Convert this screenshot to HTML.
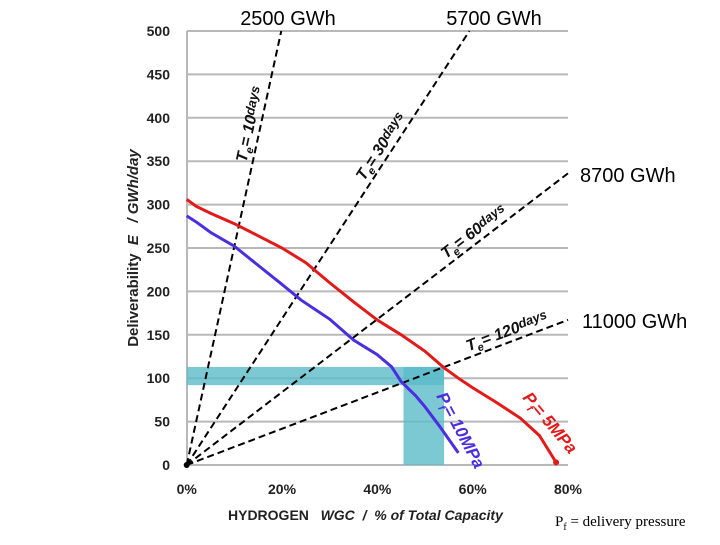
<!DOCTYPE html>
<html><head><meta charset="utf-8"><style>
body{margin:0;background:#fff;width:720px;height:540px;overflow:hidden}
svg text{font-family:"Liberation Sans",sans-serif}
</style></head><body>
<svg id="c" width="720" height="540">
</svg>
<script>
const xTicks=[0,20,40,60,80];
const yTicks=[0,50,100,150,200,250,300,350,400,450,500];
const teLabels=["10days","30days","60days","120days"];
const teSlopes=[25.2,8.43,4.2,2.09];
const capLabels=["2500 GWh","5700 GWh","8700 GWh","11000 GWh"];
const redX=[0,2,5,10,15,20,25,30,35,40,45,50,54,57,60,65,70,74,77.5];
const redY=[306,298,290,278,264,250,233,210,188,167,150,131,112,100,89,72,54,34,3];
const blueX=[0,2,5,10,15,20,24,30,35,40,43,45,48,50,53,57];
const blueY=[287,280,268,252,230,208,190,168,144,127,113,96,80,67,45,14];
const bandY=[92,113];const bandX=[45.5,54];
const S='http://www.w3.org/2000/svg',svg=document.getElementById('c');
const X=v=>186.7+v*(568-186.7)/80, Y=v=>465-v*0.868;
function el(t,a,p){const e=document.createElementNS(S,t);for(const k in a)e.setAttribute(k,a[k]);(p||svg).appendChild(e);return e;}
yTicks.forEach(v=>{
 const l=el('line',{x1:187,x2:568,y1:Y(v),y2:Y(v),stroke:'#b8b8b8','stroke-width':2});
 
 
 const t=el('text',{x:170,y:Y(v)+5,'text-anchor':'end','font-size':14,'font-weight':'bold',fill:'#222'});t.textContent=v;
 
 
});
el('line',{x1:187,x2:187,y1:Y(500),y2:465,stroke:'#b8b8b8','stroke-width':2});
xTicks.forEach(v=>{
 const t=el('text',{x:X(v),y:494,'text-anchor':'middle','font-size':14,'font-weight':'bold',fill:'#222'});t.textContent=v+'%';
 
 
});
const hb=el('rect',{x:187,y:Y(bandY[1]),width:X(bandX[1])-187,height:Y(bandY[0])-Y(bandY[1]),fill:'#5bbcc9',opacity:0.8});


const vb=el('rect',{x:X(bandX[0]),y:Y(bandY[1]),width:X(bandX[1])-X(bandX[0]),height:465-Y(bandY[1]),fill:'#5bbcc9',opacity:0.8});


teSlopes.forEach((s,i)=>{
 let xe=80,ye=s*80; if(ye>500){ye=500;xe=500/s;}
 const l=el('line',{x1:X(0),y1:Y(0),x2:X(xe),y2:Y(ye),stroke:'#000','stroke-width':2,'stroke-dasharray':'7,4'});
 
 
 const frac=[0.78,0.72,0.77,0.85][i];
 const lx=X(xe*frac),ly=Y(ye*frac);
 const ang=Math.atan2(Y(ye)-Y(0),X(xe)-X(0))*180/Math.PI;
 const g=el('g',{transform:`translate(${lx},${ly}) rotate(${ang})`});
 const t=el('text',{x:0,y:-6,'text-anchor':'middle','font-size':16,'font-style':'italic','font-weight':'bold',fill:'#111'},g);
 t.innerHTML='T<tspan font-size="11" dy="4">e</tspan><tspan dy="-4">= '+teLabels[i].replace('days','')+'</tspan><tspan font-size="13" dy="-3">days</tspan>';
 
 
});
function poly(xs,ys,c,n){
 const p=el('polyline',{points:xs.map((x,i)=>X(x)+','+Y(ys[i])).join(' '),fill:'none',stroke:c,'stroke-width':3});
 
 
}
poly(redX,redY,'#e31a1a','pf-5mpa-curve');
poly(blueX,blueY,'#4a2ee0','pf-10mpa-curve');
el('circle',{cx:X(redX[redX.length-1]),cy:Y(redY[redY.length-1]),r:3,fill:'#e31a1a'});
el('circle',{cx:X(0),cy:Y(0),r:3,fill:'#000'});
function txt(x,y,s,a,n,rot){const t=el('text',Object.assign({x:x,y:y},a));t.innerHTML=s;if(rot)t.setAttribute('transform',`rotate(${rot} ${x} ${y})`);
 
 return t;}
txt(436,396,'P<tspan font-size="11" dy="4">f</tspan><tspan dy="-4">= 10MPa</tspan>',{'font-size':17,'font-weight':'bold','font-style':'italic',fill:'#4a2ee0'},'pf-10mpa-label',62);
txt(522,398,'P<tspan font-size="11" dy="4">f</tspan><tspan dy="-4">= 5MPa</tspan>',{'font-size':17,'font-weight':'bold','font-style':'italic',fill:'#e31a1a'},'pf-5mpa-label',50);
const cp=[[288,25,'middle'],[494,25,'middle'],[580,182,'start'],[582,328,'start']];
capLabels.forEach((s,i)=>txt(cp[i][0],cp[i][1],s,{'font-size':20,'text-anchor':cp[i][2],fill:'#000'},'capacity-label'));
txt(228,520,'HYDROGEN &#160;&#160;<tspan font-style="italic">WGC &#160;/ &#160;% of Total Capacity</tspan>',{'font-size':14,'font-weight':'bold',fill:'#222'},'x-axis-title');
txt(138,248,'Deliverability &#160;<tspan font-style="italic">E &#160;&#160;/ GWh/day</tspan>',{'font-size':15,'font-weight':'bold',fill:'#222','text-anchor':'middle'},'y-axis-title',-90);
txt(555,526,'P<tspan font-size="10" dy="4">f</tspan><tspan dy="-4"> = delivery pressure</tspan>',{'font-size':15,fill:'#000'},'pf-footnote').style.fontFamily='"Liberation Serif",serif';
</script>
</body></html>
